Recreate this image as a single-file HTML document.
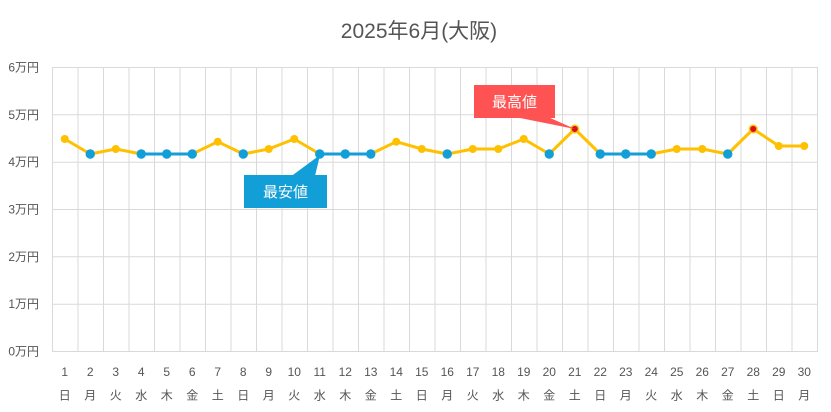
<!DOCTYPE html>
<html><head><meta charset="utf-8">
<style>
html,body{margin:0;padding:0;background:#fff;}
svg{display:block;}
text{font-family:"Liberation Sans","Noto Sans CJK JP",sans-serif;}
</style></head>
<body>
<svg width="831" height="412" viewBox="0 0 831 412" xmlns="http://www.w3.org/2000/svg">
<rect width="831" height="412" fill="#fff"/>
<text x="419" y="38" font-size="21" fill="#555" text-anchor="middle">2025年6月(大阪)</text>
<g stroke="#d9d9d9" stroke-width="1" fill="none">
<line x1="52" y1="67.5" x2="817.5" y2="67.5"/>
<line x1="52" y1="114.8" x2="817.5" y2="114.8"/>
<line x1="52" y1="162.2" x2="817.5" y2="162.2"/>
<line x1="52" y1="209.5" x2="817.5" y2="209.5"/>
<line x1="52" y1="256.8" x2="817.5" y2="256.8"/>
<line x1="52" y1="304.2" x2="817.5" y2="304.2"/>
<line x1="52" y1="351.5" x2="817.5" y2="351.5"/>
<line x1="52.5" y1="67" x2="52.5" y2="352"/>
<line x1="78" y1="67" x2="78" y2="352"/>
<line x1="103.5" y1="67" x2="103.5" y2="352"/>
<line x1="129" y1="67" x2="129" y2="352"/>
<line x1="154.5" y1="67" x2="154.5" y2="352"/>
<line x1="180" y1="67" x2="180" y2="352"/>
<line x1="205.5" y1="67" x2="205.5" y2="352"/>
<line x1="231" y1="67" x2="231" y2="352"/>
<line x1="256.5" y1="67" x2="256.5" y2="352"/>
<line x1="282" y1="67" x2="282" y2="352"/>
<line x1="307.5" y1="67" x2="307.5" y2="352"/>
<line x1="333" y1="67" x2="333" y2="352"/>
<line x1="358.5" y1="67" x2="358.5" y2="352"/>
<line x1="384" y1="67" x2="384" y2="352"/>
<line x1="409.5" y1="67" x2="409.5" y2="352"/>
<line x1="435" y1="67" x2="435" y2="352"/>
<line x1="460.5" y1="67" x2="460.5" y2="352"/>
<line x1="486" y1="67" x2="486" y2="352"/>
<line x1="511.5" y1="67" x2="511.5" y2="352"/>
<line x1="537" y1="67" x2="537" y2="352"/>
<line x1="562.5" y1="67" x2="562.5" y2="352"/>
<line x1="588" y1="67" x2="588" y2="352"/>
<line x1="613.5" y1="67" x2="613.5" y2="352"/>
<line x1="639" y1="67" x2="639" y2="352"/>
<line x1="664.5" y1="67" x2="664.5" y2="352"/>
<line x1="690" y1="67" x2="690" y2="352"/>
<line x1="715.5" y1="67" x2="715.5" y2="352"/>
<line x1="741" y1="67" x2="741" y2="352"/>
<line x1="766.5" y1="67" x2="766.5" y2="352"/>
<line x1="792" y1="67" x2="792" y2="352"/>
<line x1="817.5" y1="67" x2="817.5" y2="352"/>
</g>
<g font-size="12" fill="#555" text-anchor="end">
<text x="39" y="71.5">6万円</text>
<text x="39" y="118.8">5万円</text>
<text x="39" y="166.2">4万円</text>
<text x="39" y="213.5">3万円</text>
<text x="39" y="260.8">2万円</text>
<text x="39" y="308.2">1万円</text>
<text x="39" y="355.5">0万円</text>
</g>
<g font-size="12" fill="#555" text-anchor="middle">
<text x="64.75" y="376">1</text><text x="90.25" y="376">2</text><text x="115.75" y="376">3</text><text x="141.25" y="376">4</text><text x="166.75" y="376">5</text><text x="192.25" y="376">6</text><text x="217.75" y="376">7</text><text x="243.25" y="376">8</text><text x="268.75" y="376">9</text><text x="294.25" y="376">10</text>
<text x="319.75" y="376">11</text><text x="345.25" y="376">12</text><text x="370.75" y="376">13</text><text x="396.25" y="376">14</text><text x="421.75" y="376">15</text><text x="447.25" y="376">16</text><text x="472.75" y="376">17</text><text x="498.25" y="376">18</text><text x="523.75" y="376">19</text><text x="549.25" y="376">20</text>
<text x="574.75" y="376">21</text><text x="600.25" y="376">22</text><text x="625.75" y="376">23</text><text x="651.25" y="376">24</text><text x="676.75" y="376">25</text><text x="702.25" y="376">26</text><text x="727.75" y="376">27</text><text x="753.25" y="376">28</text><text x="778.75" y="376">29</text><text x="804.25" y="376">30</text>
<text x="64.75" y="399.5">日</text><text x="90.25" y="399.5">月</text><text x="115.75" y="399.5">火</text><text x="141.25" y="399.5">水</text><text x="166.75" y="399.5">木</text><text x="192.25" y="399.5">金</text><text x="217.75" y="399.5">土</text><text x="243.25" y="399.5">日</text><text x="268.75" y="399.5">月</text><text x="294.25" y="399.5">火</text>
<text x="319.75" y="399.5">水</text><text x="345.25" y="399.5">木</text><text x="370.75" y="399.5">金</text><text x="396.25" y="399.5">土</text><text x="421.75" y="399.5">日</text><text x="447.25" y="399.5">月</text><text x="472.75" y="399.5">火</text><text x="498.25" y="399.5">水</text><text x="523.75" y="399.5">木</text><text x="549.25" y="399.5">金</text>
<text x="574.75" y="399.5">土</text><text x="600.25" y="399.5">日</text><text x="625.75" y="399.5">月</text><text x="651.25" y="399.5">火</text><text x="676.75" y="399.5">水</text><text x="702.25" y="399.5">木</text><text x="727.75" y="399.5">金</text><text x="753.25" y="399.5">土</text><text x="778.75" y="399.5">日</text><text x="804.25" y="399.5">月</text>
</g>
<polyline fill="none" stroke="#FFC000" stroke-width="3" stroke-linejoin="round" points="64.75,139 90.25,154 115.75,149 141.25,154 166.75,154 192.25,154 217.75,141.7 243.25,154 268.75,149 294.25,139 319.75,154 345.25,154 370.75,154 396.25,141.7 421.75,149 447.25,154 472.75,149 498.25,149 523.75,139 549.25,154 574.75,129 600.25,154 625.75,154 651.25,154 676.75,149 702.25,149 727.75,154 753.25,129 778.75,146 804.25,146"/>
<g fill="none" stroke="#129ED6" stroke-width="3">
<polyline points="141.25,154 192.25,154"/>
<polyline points="319.75,154 370.75,154"/>
<polyline points="600.25,154 651.25,154"/>
</g>
<g fill="#FFC000">
<circle cx="64.75" cy="139" r="4"/><circle cx="115.75" cy="149" r="4"/><circle cx="217.75" cy="141.7" r="4"/><circle cx="268.75" cy="149" r="4"/><circle cx="294.25" cy="139" r="4"/><circle cx="396.25" cy="141.7" r="4"/><circle cx="421.75" cy="149" r="4"/><circle cx="472.75" cy="149" r="4"/><circle cx="498.25" cy="149" r="4"/><circle cx="523.75" cy="139" r="4"/><circle cx="676.75" cy="149" r="4"/><circle cx="702.25" cy="149" r="4"/><circle cx="778.75" cy="146" r="4"/><circle cx="804.25" cy="146" r="4"/>
<circle cx="574.75" cy="129" r="4.5"/><circle cx="753.25" cy="129" r="4.5"/>
</g>
<g fill="#D8101E">
<circle cx="574.75" cy="129" r="3"/><circle cx="753.25" cy="129" r="3"/>
</g>
<g fill="#129ED6">
<circle cx="90.25" cy="154" r="4.7"/><circle cx="141.25" cy="154" r="4.7"/><circle cx="166.75" cy="154" r="4.7"/><circle cx="192.25" cy="154" r="4.7"/><circle cx="243.25" cy="154" r="4.7"/><circle cx="319.75" cy="154" r="4.7"/><circle cx="345.25" cy="154" r="4.7"/><circle cx="370.75" cy="154" r="4.7"/><circle cx="447.25" cy="154" r="4.7"/><circle cx="549.25" cy="154" r="4.7"/><circle cx="600.25" cy="154" r="4.7"/><circle cx="625.75" cy="154" r="4.7"/><circle cx="651.25" cy="154" r="4.7"/><circle cx="727.75" cy="154" r="4.7"/>
</g>
<!-- max callout -->
<polygon points="515,117 548,117 575,129" fill="#FF5252"/>
<rect x="474" y="85" width="81" height="33" fill="#FF5252"/>
<text x="514.5" y="107" font-size="15" fill="#fff" text-anchor="middle">最高値</text>
<!-- min callout -->
<polygon points="291.5,176 315,176 320,155" fill="#129ED6"/>
<rect x="244" y="175" width="83" height="33" fill="#129ED6"/>
<text x="285.5" y="197" font-size="15" fill="#fff" text-anchor="middle">最安値</text>
</svg>
</body></html>
